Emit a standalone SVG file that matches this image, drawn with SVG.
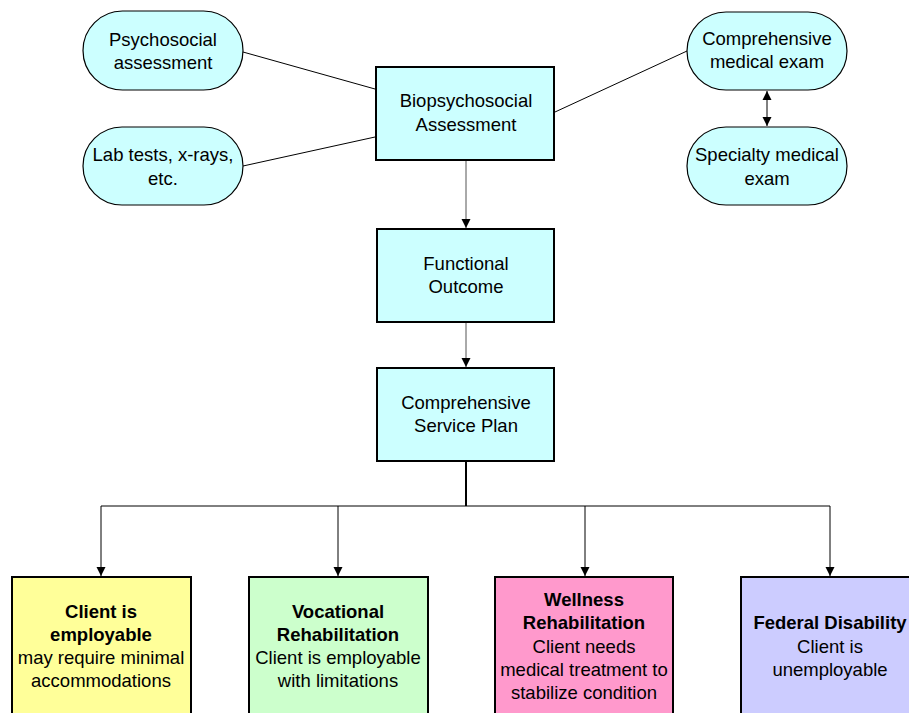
<svg xmlns="http://www.w3.org/2000/svg" width="909" height="713" viewBox="0 0 909 713">
<style>
text{font-family:"Liberation Sans",Arial,sans-serif;font-size:18.5px;fill:#000;text-anchor:middle}
.b{font-weight:bold}
.cap{fill:#CCFFFF;stroke:#000;stroke-width:1.2}
.box{stroke:#000;stroke-width:2}
.ln{stroke:#000;stroke-width:1;fill:none}
.gl{stroke:#555;stroke-width:1;fill:none}
</style>
<defs>
<marker id="ah" markerWidth="10" markerHeight="10" refX="9" refY="5" orient="auto" markerUnits="userSpaceOnUse">
<path d="M0,0.5 L9,5 L0,9.5 Z" fill="#000"/>
</marker>
<marker id="ahs" markerWidth="10" markerHeight="10" refX="1" refY="5" orient="auto" markerUnits="userSpaceOnUse">
<path d="M10,0.5 L1,5 L10,9.5 Z" fill="#000"/>
</marker>
</defs>
<rect width="909" height="713" fill="#fff"/>
<g id="connectors">
<line class="ln" x1="243" y1="52" x2="375" y2="89"/>
<line class="ln" x1="243" y1="166" x2="375" y2="137"/>
<line class="ln" x1="687" y1="51" x2="555" y2="112"/>
<line class="ln" x1="767" y1="91" x2="767" y2="126" marker-start="url(#ahs)" marker-end="url(#ah)"/>
<line class="gl" x1="466" y1="161" x2="466" y2="228" marker-end="url(#ah)"/>
<line class="gl" x1="466" y1="323" x2="466" y2="367" marker-end="url(#ah)"/>
<line x1="466" y1="461" x2="466" y2="506" stroke="#000" stroke-width="2"/>
<line class="ln" x1="101" y1="506" x2="830" y2="506"/>
<line class="ln" x1="101" y1="506" x2="101" y2="576" marker-end="url(#ah)"/>
<line class="ln" x1="338" y1="506" x2="338" y2="576" marker-end="url(#ah)"/>
<line class="ln" x1="585" y1="506" x2="585" y2="576" marker-end="url(#ah)"/>
<line class="ln" x1="830" y1="506" x2="830" y2="576" marker-end="url(#ah)"/>
</g>
<g id="psychosocial">
<rect class="cap" x="83" y="11" width="160" height="79" rx="39.5"/>
<text x="163" y="46">Psychosocial</text>
<text x="163" y="69">assessment</text>
</g>
<g id="labtests">
<rect class="cap" x="83" y="127" width="160" height="78" rx="39"/>
<text x="163" y="161">Lab tests, x-rays,</text>
<text x="163" y="185">etc.</text>
</g>
<g id="compmedical">
<rect class="cap" x="687" y="12" width="160" height="78" rx="39"/>
<text x="767" y="45">Comprehensive</text>
<text x="767" y="68">medical exam</text>
</g>
<g id="specialty">
<rect class="cap" x="687" y="127" width="160" height="78" rx="39"/>
<text x="767" y="161">Specialty medical</text>
<text x="767" y="185">exam</text>
</g>
<g id="biopsychosocial">
<rect class="box" fill="#CCFFFF" x="376" y="67" width="178" height="93"/>
<text x="466" y="107">Biopsychosocial</text>
<text x="466" y="131">Assessment</text>
</g>
<g id="functional">
<rect class="box" fill="#CCFFFF" x="377" y="229" width="177" height="93"/>
<text x="466" y="270">Functional</text>
<text x="466" y="293">Outcome</text>
</g>
<g id="serviceplan">
<rect class="box" fill="#CCFFFF" x="377" y="368" width="177" height="93"/>
<text x="466" y="409">Comprehensive</text>
<text x="466" y="432">Service Plan</text>
</g>
<g id="employable">
<rect class="box" fill="#FFFF99" x="12" y="577" width="179" height="150"/>
<text class="b" x="101" y="618">Client is</text>
<text class="b" x="101" y="641">employable</text>
<text x="101" y="664">may require minimal</text>
<text x="101" y="687">accommodations</text>
</g>
<g id="vocational">
<rect class="box" fill="#CCFFCC" x="249" y="577" width="179" height="150"/>
<text class="b" x="338" y="618">Vocational</text>
<text class="b" x="338" y="641">Rehabilitation</text>
<text x="338" y="664">Client is employable</text>
<text x="338" y="687">with limitations</text>
</g>
<g id="wellness">
<rect class="box" fill="#FF99CC" x="495" y="577" width="178" height="150"/>
<text class="b" x="584" y="606">Wellness</text>
<text class="b" x="584" y="629">Rehabilitation</text>
<text x="584" y="653">Client needs</text>
<text x="584" y="676">medical treatment to</text>
<text x="584" y="699">stabilize condition</text>
</g>
<g id="federal">
<rect class="box" fill="#CCCCFF" x="741" y="577" width="179" height="150"/>
<text class="b" x="830" y="629">Federal Disability</text>
<text x="830" y="653">Client is</text>
<text x="830" y="676">unemployable</text>
</g>
</svg>
